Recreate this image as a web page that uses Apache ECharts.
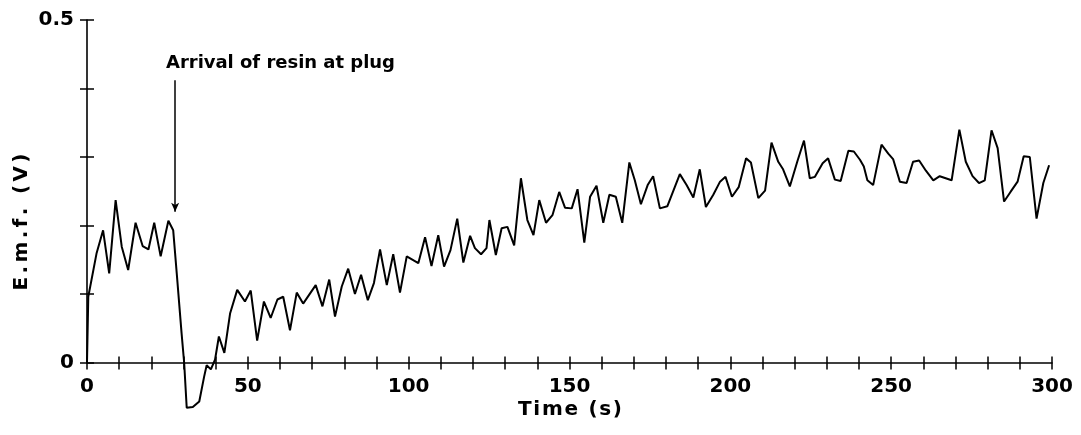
<!DOCTYPE html>
<html>
<head>
<meta charset="utf-8">
<script src="https://cdn.jsdelivr.net/npm/echarts@6/dist/echarts.min.js"></script>
<style>html,body{margin:0;padding:0;background:#fff}#c{width:1081px;height:435px}</style>
</head>
<body>
<div id="c"></div>
<script>
// Time (s)
const time = [0,0.4,3,5,6.9,8.9,10.8,12.8,15.1,17.3,19.1,20.9,22.9,25.3,26.8,27.9,29.4,30.2,31,32.9,
34.9,36.4,37.2,38.5,39.8,41,42.7,44.5,46.7,49.1,50.9,52.9,55,57.1,59.2,61,63.1,65.2,67.2,71.1,
73.2,75.3,77.1,79.2,81.2,83.3,85.2,87.3,89.2,91.1,93.2,95.2,97.3,99.4,103,105.1,107.1,109.2,111,113,
115.1,117,119.1,120.6,122.5,124.2,125.1,127.1,128.9,130.7,132.8,134.9,136.9,138.8,140.6,142.7,144.7,146.8,148.6,150.7,
152.5,154.6,156.4,158.4,160.5,162.4,164.4,166.4,168.6,170.3,172.2,174.3,176,178.1,180.4,184.3,186.4,188.5,190.5,192.4,
194.7,196.8,198.5,200.5,202.6,204.9,206.4,208.7,210.8,212.8,214.9,216.4,218.5,220.8,222.9,224.7,226.3,228.7,230.4,232.5,
234.3,236.7,238.4,240.3,241.5,242.6,244.4,247,249.1,250.6,252.7,254.8,256.8,258.7,260.8,263.1,265.1,268.8,271.2,273.2,
275.3,277.3,279.1,281.2,283.1,285.1,287.1,289.3,291.2,293.1,295.2,297.3,299.1];
// E.m.f. (V)
const emf = [0,0.096,0.16,0.193,0.13,0.237,0.169,0.135,0.204,0.17,0.165,0.204,0.155,0.207,0.193,0.13,0.043,0,-0.066,-0.065,
-0.057,-0.021,-0.004,-0.01,0.004,0.038,0.014,0.072,0.106,0.089,0.105,0.032,0.089,0.065,0.092,0.096,0.047,0.102,0.086,0.113,
0.082,0.121,0.067,0.111,0.137,0.1,0.128,0.091,0.116,0.165,0.113,0.158,0.102,0.155,0.145,0.183,0.141,0.186,0.14,0.164,
0.21,0.146,0.185,0.167,0.158,0.167,0.208,0.157,0.196,0.198,0.171,0.269,0.208,0.186,0.237,0.204,0.215,0.249,0.226,0.225,
0.253,0.175,0.242,0.258,0.204,0.245,0.242,0.204,0.292,0.266,0.231,0.259,0.272,0.225,0.228,0.275,0.259,0.241,0.282,0.227,
0.245,0.264,0.271,0.242,0.256,0.298,0.292,0.24,0.251,0.321,0.293,0.282,0.257,0.293,0.324,0.269,0.271,0.291,0.298,0.267,
0.265,0.309,0.308,0.296,0.286,0.266,0.259,0.318,0.305,0.297,0.264,0.262,0.293,0.295,0.28,0.266,0.272,0.266,0.34,0.293,
0.272,0.262,0.266,0.339,0.313,0.235,0.249,0.264,0.301,0.3,0.21,0.262,0.288];
const xLabels = [0,50,100,150,200,250,300];
const yLabels = [0,0.5];
const xTitle = 'Time (s)';
const yTitle = 'E.m.f. (V)';
const annotationText = 'Arrival of resin at plug';
const arrowTime = 27.4, arrowTop = 0.412, arrowBottom = 0.22;

const FONT = 'DejaVu Sans';
const data = time.map((t,i)=>[t,emf[i]]);
const isLabelX = v => xLabels.some(l=>Math.abs(l-v)<1e-6);
const isLabelY = v => yLabels.some(l=>Math.abs(l-v)<1e-6);
const axisStyle = {lineStyle:{color:'#000',width:1.6}};
const baseX = {type:'value',min:0,max:300,interval:10,position:'bottom',splitLine:{show:false}};
const baseY = {type:'value',min:0,max:0.5,interval:0.1,position:'left',splitLine:{show:false}};

// letter-spaced text: characters placed along the reading direction to span a target length
const mctx = document.createElement('canvas').getContext('2d');
function spacedText(text, cx, cy, size, targetLen, rotation){
  const font = 'bold ' + size + 'px "' + FONT + '"';
  mctx.font = font;
  const chars = text.split('');
  const widths = chars.map(c=>mctx.measureText(c).width);
  const natural = widths.reduce((a,b)=>a+b,0);
  const gap = chars.length>1 ? (targetLen - natural)/(chars.length-1) : 0;
  let pos = -targetLen/2;
  const children = [];
  chars.forEach((c,i)=>{
    if(c!==' ') children.push({type:'text',x:pos,y:0,style:{text:c,fill:'#000',font:font,textAlign:'left',textVerticalAlign:'middle',align:'left',verticalAlign:'middle'}});
    pos += widths[i] + gap;
  });
  return {type:'group',x:cx,y:cy,rotation:rotation||0,children:children};
}

const chart = echarts.init(document.getElementById('c'),null,{renderer:'canvas'});
chart.setOption({
  animation:false,
  backgroundColor:'#fff',
  grid:{left:87,right:29,top:20,bottom:72.5,containLabel:false},
  xAxis:[
    Object.assign({},baseX,{axisLine:Object.assign({show:true},axisStyle),
      axisTick:{show:true,inside:false,length:7,lineStyle:{color:'#000',width:1.5}},
      axisLabel:{show:true,margin:14,color:'#000',fontFamily:FONT,fontWeight:'bold',fontSize:20,
        formatter:v=>isLabelX(v)?String(Math.round(v)):''}}),
    Object.assign({},baseX,{axisLine:{show:false},
      axisTick:{show:true,inside:true,length:6,lineStyle:{color:'#000',width:1.5}},
      axisLabel:{show:false}})
  ],
  yAxis:[
    Object.assign({},baseY,{axisLine:Object.assign({show:true},axisStyle),
      axisTick:{show:true,inside:false,length:7,lineStyle:{color:'#000',width:1.5}},
      axisLabel:{show:true,margin:13,color:'#000',fontFamily:FONT,fontWeight:'bold',fontSize:20,
        formatter:v=>isLabelY(v)?(Math.abs(v)<1e-9?'0':String(Math.round(v*10)/10)):''}}),
    Object.assign({},baseY,{axisLine:{show:false},
      axisTick:{show:true,inside:true,length:7,lineStyle:{color:'#000',width:1.5}},
      axisLabel:{show:false}})
  ],
  series:[{
    type:'line',xAxisIndex:0,yAxisIndex:0,data:data,clip:false,
    showSymbol:false,symbol:'none',
    lineStyle:{color:'#000',width:2},
    markLine:{
      silent:true,symbol:['none','arrow'],symbolSize:[6,9],
      lineStyle:{color:'#000',width:1.5,type:'solid'},
      label:{show:false},
      data:[[{coord:[arrowTime,arrowTop]},{coord:[arrowTime,arrowBottom]}]]
    }
  }],
  graphic:[
    spacedText(annotationText, 280.5, 63, 18, 229, 0),
    spacedText(xTitle, 570, 410, 20, 104, 0),
    spacedText(yTitle, 22, 222, 20, 137, Math.PI/2)
  ]
});
</script>
</body>
</html>
